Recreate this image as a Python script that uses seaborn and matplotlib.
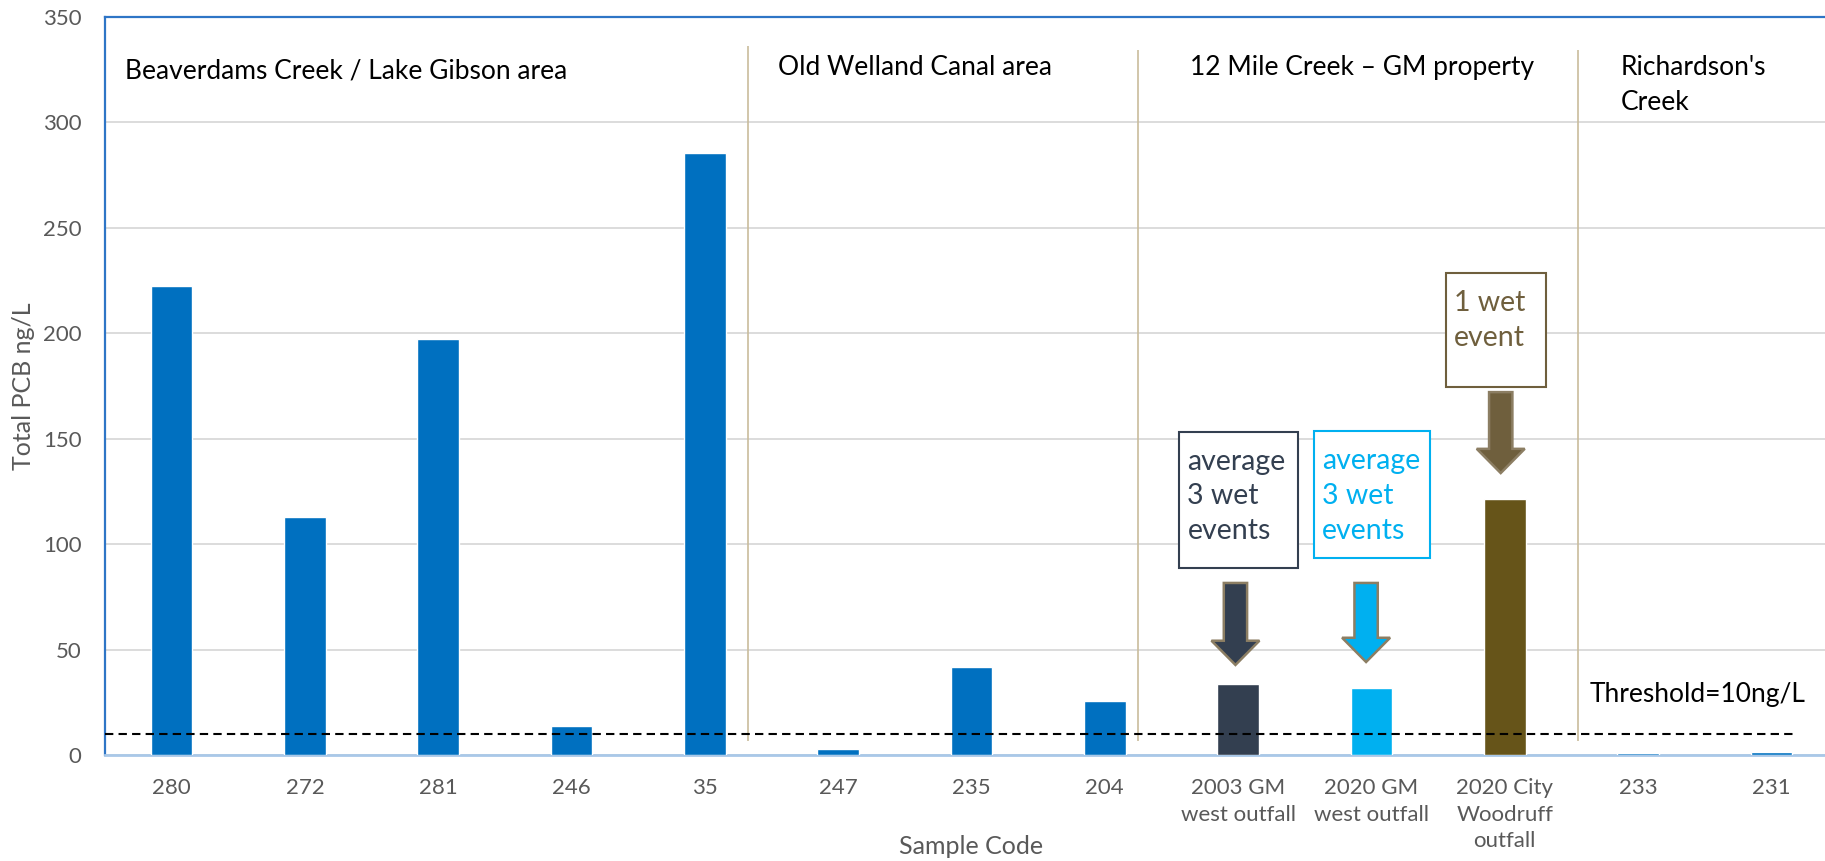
import matplotlib
matplotlib.use("Agg")
import matplotlib.pyplot as plt
from matplotlib.patches import FancyArrow, Rectangle
import seaborn as sns
import pandas as pd

# ---------------- data ----------------
codes = ["280", "272", "281", "246", "35", "247", "235", "204",
         "2003 GM\nwest outfall", "2020 GM\nwest outfall",
         "2020 City\nWoodruff\noutfall", "233", "231"]
pcb = [222.4, 113.0, 197.4, 13.6, 285.4, 2.7, 41.7, 25.7, 33.6, 31.8, 121.4, 0.8, 1.3]
bar_colors = ["#0070C0"] * 8 + ["#333F50", "#00B0F0", "#665419"] + ["#0070C0"] * 2

threshold = 10
threshold_label = "Threshold=10ng/L"

group_names = ["Beaverdams Creek / Lake Gibson area", "Old Welland Canal area",
               "12 Mile Creek \u2013 GM property", "Richardson's\nCreek"]
group_x = [-0.35, 4.55, 7.64, 10.87]
group_y = [330.5, 332, 332, 332]
separators_x = [4.32, 7.25, 10.55]
separators_top = [336.3, 334.3, 334.3]

note_texts = ["average\n3 wet\nevents", "average\n3 wet\nevents", "1 wet\nevent"]
note_colors = ["#333F50", "#00B0F0", "#6F5F3D"]
note_box_x = [(7.56, 8.45), (8.57, 9.44), (9.56, 10.31)]
note_box_y = [(88.7, 153.3), (93.4, 153.6), (174.5, 228.5)]
arrow_x = [7.98, 8.96, 9.97]
arrow_top = [81.6, 81.6, 172.1]
arrow_tip = [42.7, 44.1, 133.7]
arrow_fill = ["#333F50", "#00B0F0", "#6F5F3D"]

# ---------------- style ----------------
sns.set_theme(style="white")
plt.rcParams["font.family"] = ["Lato", "DejaVu Sans"]

W, H = 1825, 861
fig = plt.figure(figsize=(W / 100, H / 100), dpi=100)
ax = fig.add_axes([105 / W, 1 - 755 / H, 1733 / W, 738 / H])

df = pd.DataFrame({"code": codes, "pcb": pcb})
sns.barplot(data=df, x="code", y="pcb", hue="code", palette=bar_colors,
            width=0.3125, saturation=1, legend=False, ax=ax, zorder=3)

ax.set_xlim(-0.5, 12.5)
ax.set_ylim(0, 350)
ax.set_yticks(range(0, 351, 50))
ax.yaxis.grid(True, color="#D9D9D9", lw=1.3, zorder=0)
ax.xaxis.grid(False)
ax.set_axisbelow(True)

for s in ["left", "top"]:
    ax.spines[s].set_color("#2E75C6")
    ax.spines[s].set_linewidth(1.6)
ax.spines["right"].set_visible(False)
ax.spines["bottom"].set_color("#A9C8E8")
ax.spines["bottom"].set_linewidth(2.0)

ax.tick_params(axis="both", length=0, labelsize=16, labelcolor="#595959")
ax.tick_params(axis="x", pad=16.5)
ax.tick_params(axis="y", pad=17)
for lab in ax.get_xticklabels():
    lab.set_linespacing(1.42)
    lab.set_va("top")

ax.set_xlabel("Sample Code", fontsize=18, color="#595959")
ax.set_ylabel("Total PCB ng/L", fontsize=18, color="#595959")
ax.xaxis.set_label_coords(0.4995, (755 - 846) / 738)
ax.xaxis.label.set_va("center")
ax.yaxis.set_label_coords((24 - 105) / 1733, (755 - 386) / 738)
ax.yaxis.label.set_va("center")

# threshold
ax.hlines(threshold, -0.5, 12.17, colors="black", linestyles=(0, (4, 2.5)),
          lw=1.5, zorder=4)
ax.text(10.64, 28.5, threshold_label, fontsize=19, color="black",
        ha="left", va="center", zorder=5)

# separators
for sx, top in zip(separators_x, separators_top):
    ax.vlines(sx, 6.5, top, colors="#C9BC9C", lw=1.2, zorder=2)

# group titles
for name, gx, gy in zip(group_names, group_x, group_y):
    ax.text(gx, gy, name, fontsize=19, color="black", ha="left", va="top",
            linespacing=1.5)

# annotation boxes and arrows
for txt, col, bx, by, axx, at, ati, af in zip(note_texts, note_colors, note_box_x,
                                               note_box_y, arrow_x, arrow_top,
                                               arrow_tip, arrow_fill):
    ax.add_patch(Rectangle((bx[0], by[0]), bx[1] - bx[0], by[1] - by[0],
                           fill=True, fc="white", ec=col, lw=1.5, zorder=5))
    ax.text(bx[0] + 0.06, by[1] - 8.0, txt, fontsize=20.5, color=col,
            ha="left", va="top", linespacing=1.42, zorder=6)
    ax.add_patch(FancyArrow(axx, at, 0, -(at - ati), width=0.175,
                            head_width=0.36, head_length=11.5,
                            length_includes_head=True, fc=af, ec="#8C7E63",
                            lw=1.8, zorder=6))

fig.savefig("out.png", dpi=100)
